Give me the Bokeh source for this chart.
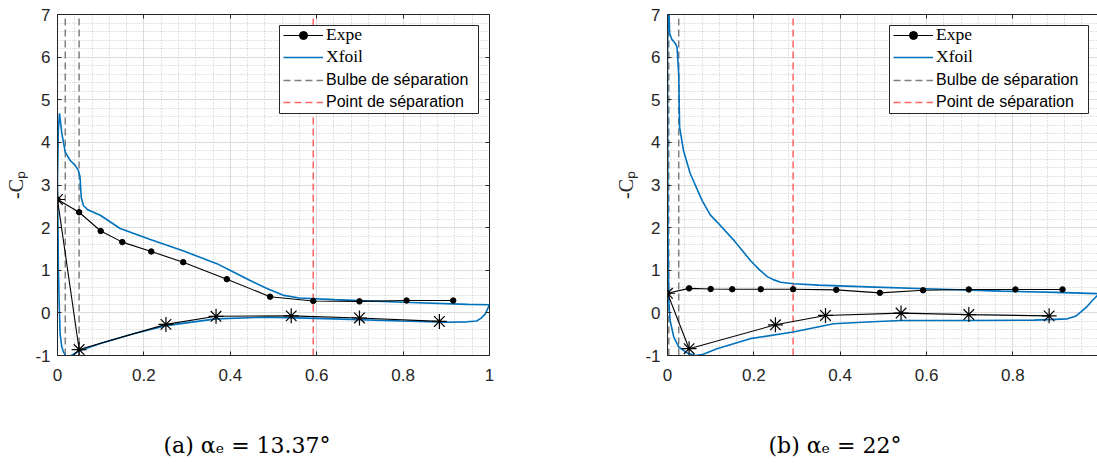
import numpy as np
from bokeh.plotting import figure
from bokeh.layouts import row, column
from bokeh.models import (Range1d, FixedTicker, LinearAxis, Legend, LegendItem,
                          BoxAnnotation, Label, CustomJSTickFormatter)
from bokeh.embed import file_html
from bokeh.resources import INLINE

# ---------------- data ----------------
# (a) alpha_e = 13.37 deg
a_expe_up_x = [0.0, 0.050, 0.100, 0.150, 0.217, 0.291, 0.392, 0.492, 0.592, 0.699, 0.808, 0.916]
a_expe_up_y = [2.66, 2.36, 1.92, 1.66, 1.44, 1.19, 0.79, 0.38, 0.28, 0.27, 0.29, 0.29]
a_expe_lo_x = [0.0, 0.050, 0.251, 0.367, 0.541, 0.699, 0.884]
a_expe_lo_y = [2.66, -0.86, -0.27, -0.08, -0.07, -0.12, -0.20]
a_xfoil_x = [1.0, 0.95, 0.80, 0.64, 0.56, 0.524, 0.485, 0.446, 0.407, 0.369, 0.292, 0.215,
             0.145, 0.099, 0.070, 0.060, 0.055, 0.052, 0.048, 0.041, 0.029, 0.018, 0.010,
             0.0046, 0.002, 0.0,
             0.001, 0.002, 0.004, 0.006, 0.010, 0.014, 0.020, 0.027, 0.037, 0.053, 0.099,
             0.176, 0.251, 0.367, 0.485, 0.64, 0.794, 0.90, 0.948, 0.97, 0.98, 0.99, 1.0]
a_xfoil_y = [0.19, 0.20, 0.25, 0.31, 0.35, 0.41, 0.57, 0.76, 0.96, 1.155, 1.45, 1.72,
             1.98, 2.29, 2.42, 2.52, 2.70, 3.20, 3.35, 3.46, 3.58, 3.77, 4.21,
             4.68, 4.30, 3.10,
             2.20, 1.07, 0.20, -0.49, -0.80, -0.92, -1.02, -1.03, -0.97, -0.88, -0.72,
             -0.49, -0.30, -0.14, -0.10, -0.14, -0.19, -0.22, -0.21, -0.19, -0.13, -0.03, 0.19]
a_bulbe_x = [0.018, 0.050]
a_sep_x = [0.592]

# (b) alpha_e = 22 deg
b_expe_up_x = [0.0, 0.050, 0.100, 0.150, 0.216, 0.291, 0.391, 0.492, 0.592, 0.698, 0.806, 0.915]
b_expe_up_y = [0.46, 0.575, 0.56, 0.555, 0.555, 0.555, 0.54, 0.47, 0.53, 0.55, 0.55, 0.55]
b_expe_lo_x = [0.0, 0.050, 0.250, 0.366, 0.541, 0.698, 0.884]
b_expe_lo_y = [0.46, -0.84, -0.28, -0.06, -0.005, -0.04, -0.07]
b_xfoil_x = [1.0, 0.90, 0.772, 0.617, 0.463, 0.35, 0.291, 0.262, 0.245, 0.231, 0.212, 0.192,
             0.154, 0.115, 0.099, 0.080, 0.0526, 0.037, 0.028, 0.026, 0.022, 0.018, 0.010,
             0.005, 0.002, 0.0,
             0.001, 0.003, 0.006, 0.0146, 0.026, 0.0455, 0.065, 0.08, 0.1145, 0.1916, 0.291,
             0.385, 0.463, 0.54, 0.694, 0.849, 0.926, 0.945, 0.957, 0.971, 0.984, 1.0]
b_xfoil_y = [0.45, 0.48, 0.51, 0.56, 0.61, 0.65, 0.685, 0.72, 0.78, 0.85, 1.02, 1.23,
             1.70, 2.13, 2.30, 2.64, 3.27, 3.81, 4.36, 5.60, 6.24, 6.32, 6.42,
             6.55, 7.60, 6.00,
             2.00, 0.29, -0.18, -0.57, -0.80, -0.94, -1.00, -0.98, -0.84, -0.605, -0.45,
             -0.254, -0.215, -0.18, -0.18, -0.17, -0.14, -0.08, 0.02, 0.14, 0.29, 0.45]
b_bulbe_x = [0.003, 0.026]
b_sep_x = [0.291]

x_ticks = [0, 0.2, 0.4, 0.6, 0.8, 1.0]
x_tick_labels = ["0", "0.2", "0.4", "0.6", "0.8", "1"]
y_ticks = [-1, 0, 1, 2, 3, 4, 5, 6, 7]
y_tick_labels = ["-1", "0", "1", "2", "3", "4", "5", "6", "7"]
captions = ["(a) \u03b1\u2091 = 13.37\u00b0", "(b) \u03b1\u2091 = 22\u00b0"]
legend_labels = ["Expe", "Xfoil", "Bulbe de s\u00e9paration", "Point de s\u00e9paration"]

# ---------------- styles ----------------
AX = "#262626"
BLUE = "#0072BD"
GRAY = "#7f7f7f"
RED = "#ff6464"
SANS = "Liberation Sans"
SERIF = "Liberation Serif"
Y0, Y1 = -1, 7
x_minor = [round(v, 3) for v in np.arange(0, 1.0001, 0.04)]
y_minor = [round(v, 3) for v in np.arange(-1, 7.0001, 0.2)]


def make_plot(width, left_border, right_border, x_end, expe_up, expe_lo, xfoil,
              bulbe_x, sep_x, with_right_axis):
    p = figure(width=width, height=400, x_range=Range1d(0, x_end), y_range=Range1d(Y0, Y1),
               output_backend="svg", toolbar_location=None,
               min_border_left=left_border, min_border_right=right_border,
               min_border_top=14, min_border_bottom=45,
               background_fill_color="white", border_fill_color="white",
               outline_line_color=None)
    xt = FixedTicker(ticks=x_ticks, minor_ticks=x_minor)
    yt = FixedTicker(ticks=y_ticks, minor_ticks=y_minor)
    p.xaxis.ticker = xt
    p.yaxis.ticker = yt
    p.xaxis.major_label_overrides = {t: l for t, l in zip(x_ticks, x_tick_labels)}
    p.yaxis.major_label_overrides = {t: l for t, l in zip(y_ticks, y_tick_labels)}
    for ax in (p.xaxis[0], p.yaxis[0]):
        ax.axis_line_color = AX
        ax.major_tick_line_color = AX
        ax.major_tick_in = 4
        ax.major_tick_out = 0
        ax.minor_tick_in = 0
        ax.minor_tick_out = 0
        ax.major_label_text_font = SANS
        ax.major_label_text_font_size = "17px"
        ax.major_label_text_color = AX
    p.xaxis.major_label_standoff = 13
    p.yaxis.major_label_standoff = 7
    p.yaxis.axis_label = "-C\u209a"
    p.yaxis.axis_label_text_font = SERIF
    p.yaxis.axis_label_text_font_style = "normal"
    p.yaxis.axis_label_text_font_size = "20px"
    p.yaxis.axis_label_text_color = AX
    p.yaxis.axis_label_standoff = 5

    sides = [("above", xt)] + ([("right", yt)] if with_right_axis else [])
    for loc, tk in sides:
        ax = LinearAxis(ticker=tk, formatter=CustomJSTickFormatter(code="return ''"),
                        axis_line_color=AX, major_tick_line_color=AX,
                        major_tick_in=4, major_tick_out=0, minor_tick_in=0, minor_tick_out=0,
                        major_label_standoff=0)
        p.add_layout(ax, loc)

    for g in (p.xgrid[0], p.ygrid[0]):
        g.grid_line_color = "#dcdcdc"
        g.grid_line_width = 1
        g.minor_grid_line_color = "#c4c4c4"
        g.minor_grid_line_dash = "1 2"
        g.minor_grid_line_width = 1

    # separation lines
    r_bulbe = p.segment(x0=bulbe_x, y0=[Y0] * len(bulbe_x), x1=bulbe_x, y1=[Y1] * len(bulbe_x),
                        line_color=GRAY, line_width=1.5, line_dash="7 4")
    r_sep = p.segment(x0=sep_x, y0=[Y0] * len(sep_x), x1=sep_x, y1=[Y1] * len(sep_x),
                      line_color=RED, line_width=1.5, line_dash="7 4")

    # xfoil
    r_xfoil = p.line(xfoil[0], xfoil[1], line_color=BLUE, line_width=1.6)

    # experiments
    r_up = p.line(expe_up[0], expe_up[1], line_color="black", line_width=1.1)
    r_dots = p.scatter(expe_up[0], expe_up[1], marker="circle", size=5.5,
                       fill_color="black", line_color="black")
    p.line(expe_lo[0], expe_lo[1], line_color="black", line_width=1.1)
    p.scatter(expe_lo[0], expe_lo[1], marker="asterisk", size=15,
              line_color="black", line_width=1.2)

    # legend box + two legends (serif / sans)
    box = BoxAnnotation(left=222, right=421, top=330, bottom=242,
                        left_units="screen", right_units="screen",
                        top_units="screen", bottom_units="screen",
                        fill_color="white", fill_alpha=1.0,
                        line_color=AX, line_width=1, line_alpha=1.0)
    p.add_layout(box)
    common = dict(padding=0, glyph_width=40, glyph_height=20, label_height=20,
                  label_standoff=3, background_fill_alpha=0, border_line_alpha=0,
                  margin=0, label_text_color="black")
    leg_a = Legend(items=[LegendItem(label=legend_labels[0], renderers=[r_up, r_dots]),
                          LegendItem(label=legend_labels[1], renderers=[r_xfoil])],
                   location=(226, 288), spacing=1, label_text_font=SERIF,
                   label_text_font_size="17.5px", **common)
    leg_b = Legend(items=[LegendItem(label=legend_labels[2], renderers=[r_bulbe]),
                          LegendItem(label=legend_labels[3], renderers=[r_sep])],
                   location=(226, 243), spacing=2, label_text_font=SANS,
                   label_text_font_size="16px", **common)
    p.add_layout(leg_a)
    p.add_layout(leg_b)
    return p


def make_caption(width, text, x_off):
    c = figure(width=width, height=62, x_range=Range1d(0, 1), y_range=Range1d(0, 1),
               output_backend="svg", toolbar_location=None,
               x_axis_type=None, y_axis_type=None,
               min_border_left=0, min_border_right=0, min_border_top=0, min_border_bottom=0,
               outline_line_color=None, background_fill_color="white",
               border_fill_color="white")
    c.grid.visible = False
    c.add_layout(Label(x=x_off, y=17, x_units="screen", y_units="screen", text=text,
                       text_align="left", text_baseline="middle",
                       text_font="DejaVu Serif", text_font_size="22px", text_color="black"))
    return c


p1 = make_plot(608, 57, 119, 1.0, (a_expe_up_x, a_expe_up_y), (a_expe_lo_x, a_expe_lo_y),
               (a_xfoil_x, a_xfoil_y), a_bulbe_x, a_sep_x, True)
p2 = make_plot(489, 59, 0, 430 / 431.7, (b_expe_up_x, b_expe_up_y), (b_expe_lo_x, b_expe_lo_y),
               (b_xfoil_x, b_xfoil_y), b_bulbe_x, b_sep_x, False)
c1 = make_caption(608, captions[0], 163)
c2 = make_caption(489, captions[1], 160)

layout = column(row(p1, p2), row(c1, c2))
open("out.html", "w").write(file_html(layout, INLINE))
